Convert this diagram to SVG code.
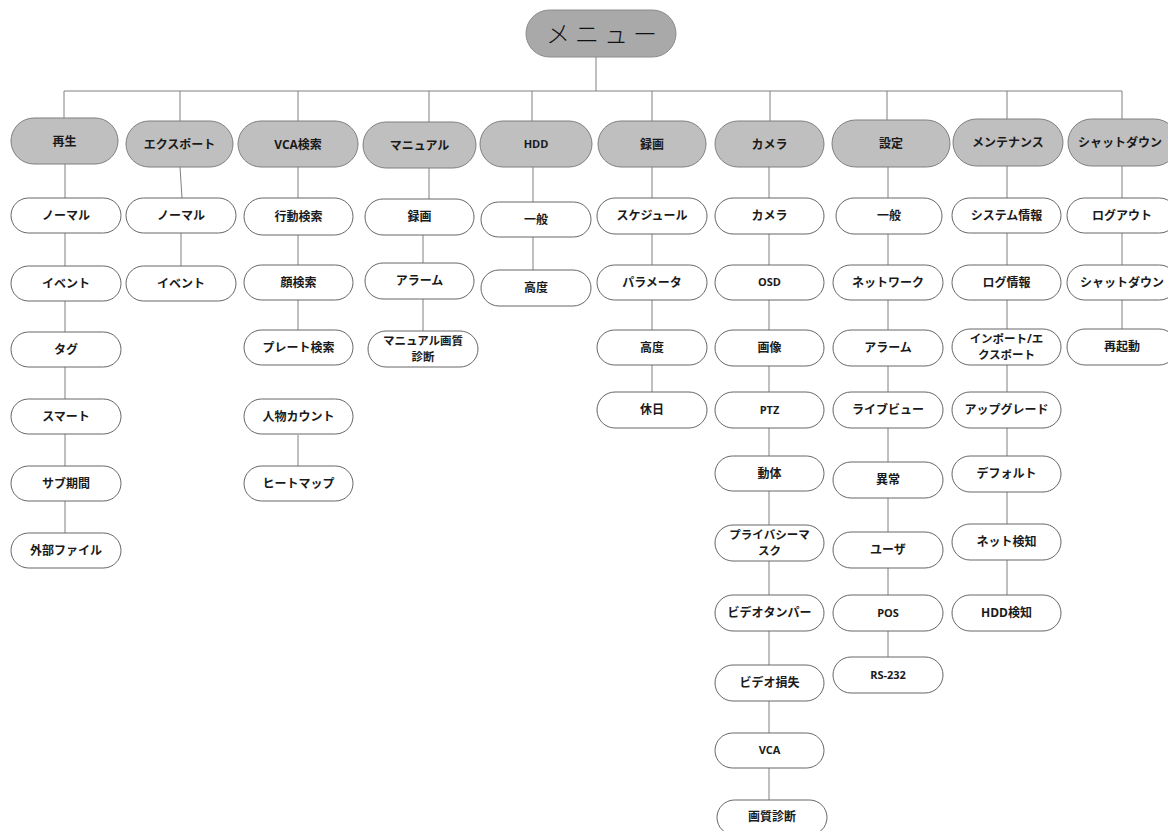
<svg xmlns="http://www.w3.org/2000/svg" width="1168" height="831" viewBox="0 0 1168 831">
<style>
.root rect{fill:#a9a9a9;stroke:#8c8c8c;stroke-width:1}
.l1 rect{fill:#bfbfbf;stroke:#7f7f7f;stroke-width:1}
.l2 rect{fill:#ffffff;stroke:#666666;stroke-width:1}
text{font-family:"Open Sans","Noto Sans CJK JP",sans-serif;font-weight:bold;font-size:12px;fill:#1a1a1a;text-anchor:middle}
.rt{font-family:"Noto Sans CJK JP",sans-serif;font-weight:300;font-size:24px;letter-spacing:5px;fill:#111}
.lat{font-size:11px}
.two{font-size:11.5px}
#connectors line{stroke:#808080;stroke-width:1;fill:none}
</style>
<rect width="1168" height="831" fill="#ffffff"/>
<g id="connectors">
<line x1="596" y1="57" x2="596" y2="91"/>
<line x1="64" y1="91" x2="1122" y2="91"/>
<line x1="64" y1="91" x2="64" y2="118"/>
<line x1="180" y1="91" x2="180" y2="121"/>
<line x1="298" y1="91" x2="298" y2="121"/>
<line x1="429" y1="91" x2="429" y2="122"/>
<line x1="532" y1="91" x2="532" y2="121"/>
<line x1="652" y1="91" x2="652" y2="121"/>
<line x1="770" y1="91" x2="770" y2="121"/>
<line x1="887" y1="91" x2="887" y2="120"/>
<line x1="1007" y1="91" x2="1007" y2="119"/>
<line x1="1122" y1="91" x2="1122" y2="119"/>
<line x1="65" y1="164" x2="65" y2="533"/>
<line x1="180" y1="167" x2="182" y2="198"/>
<line x1="181" y1="233" x2="181" y2="266"/>
<line x1="298" y1="167" x2="298" y2="330"/>
<line x1="298" y1="435" x2="298" y2="466"/>
<line x1="429" y1="168" x2="429" y2="199"/>
<line x1="423" y1="235" x2="423" y2="331"/>
<line x1="533" y1="167" x2="533" y2="270"/>
<line x1="652" y1="167" x2="652" y2="392"/>
<line x1="769" y1="167" x2="769" y2="800"/>
<line x1="888" y1="167" x2="888" y2="657"/>
<line x1="1007" y1="166" x2="1007" y2="595"/>
<line x1="1122" y1="166" x2="1122" y2="329"/>
</g>

<g id="n-root" class="root"><rect x="526" y="10" width="150" height="47" rx="23.5"/><text class="rt" x="604" y="43">メニュー</text></g>

<g id="n-saisei" class="l1"><rect x="11" y="118" width="107" height="46" rx="23"/><text x="64.5" y="145.5">再生</text></g>
<g id="n-export" class="l1"><rect x="126" y="121" width="107" height="46" rx="23"/><text x="179.5" y="148.5">エクスポート</text></g>
<g id="n-vca" class="l1"><rect x="238" y="121" width="120" height="46" rx="23"/><text x="298" y="148.5">VCA検索</text></g>
<g id="n-manual" class="l1"><rect x="363" y="122" width="113" height="46" rx="23"/><text x="419.5" y="149.5">マニュアル</text></g>
<g id="n-hdd" class="l1"><rect x="480" y="121" width="112" height="46" rx="23"/><text class="lat" x="536" y="148">HDD</text></g>
<g id="n-rokuga" class="l1"><rect x="598" y="121" width="108" height="46" rx="23"/><text x="652" y="148.5">録画</text></g>
<g id="n-camera" class="l1"><rect x="715" y="121" width="109" height="46" rx="23"/><text x="769.5" y="148.5">カメラ</text></g>
<g id="n-settei" class="l1"><rect x="832" y="120" width="118" height="47" rx="23.5"/><text x="891" y="148">設定</text></g>
<g id="n-maint" class="l1"><rect x="953" y="119" width="110" height="47" rx="23.5"/><text x="1008" y="147">メンテナンス</text></g>
<g id="n-shutdown" class="l1"><rect x="1068" y="119" width="110" height="47" rx="23.5"/><text x="1120" y="147">シャットダウン</text></g>

<g id="n-s1" class="l2"><rect x="11" y="198" width="110" height="35" rx="17.5"/><text x="66" y="219.5">ノーマル</text></g>
<g id="n-s2" class="l2"><rect x="11" y="266" width="110" height="35" rx="17.5"/><text x="66" y="287.5">イベント</text></g>
<g id="n-s3" class="l2"><rect x="11" y="332" width="110" height="35" rx="17.5"/><text x="66" y="353.5">タグ</text></g>
<g id="n-s4" class="l2"><rect x="11" y="399" width="110" height="35" rx="17.5"/><text x="66" y="420.5">スマート</text></g>
<g id="n-s5" class="l2"><rect x="11" y="466" width="110" height="35" rx="17.5"/><text x="66" y="487.5">サブ期間</text></g>
<g id="n-s6" class="l2"><rect x="11" y="533" width="110" height="35" rx="17.5"/><text x="66" y="554.5">外部ファイル</text></g>

<g id="n-e1" class="l2"><rect x="126" y="198" width="110" height="35" rx="17.5"/><text x="181" y="219.5">ノーマル</text></g>
<g id="n-e2" class="l2"><rect x="126" y="266" width="110" height="35" rx="17.5"/><text x="181" y="287.5">イベント</text></g>

<g id="n-v1" class="l2"><rect x="244" y="198" width="109" height="37" rx="18.5"/><text x="298.5" y="220.5">行動検索</text></g>
<g id="n-v2" class="l2"><rect x="244" y="265" width="109" height="35" rx="17.5"/><text x="298.5" y="286.5">顔検索</text></g>
<g id="n-v3" class="l2"><rect x="244" y="330" width="109" height="35" rx="17.5"/><text x="298.5" y="351.5">プレート検索</text></g>
<g id="n-v4" class="l2"><rect x="244" y="399" width="109" height="35" rx="17.5"/><text x="298.5" y="420.5">人物カウント</text></g>
<g id="n-v5" class="l2"><rect x="244" y="466" width="109" height="35" rx="17.5"/><text x="298.5" y="487.5">ヒートマップ</text></g>

<g id="n-m1" class="l2"><rect x="365" y="199" width="109" height="36" rx="18"/><text x="419.5" y="221">録画</text></g>
<g id="n-m2" class="l2"><rect x="365" y="263" width="109" height="36" rx="18"/><text x="419.5" y="285">アラーム</text></g>
<g id="n-m3" class="l2"><rect x="368" y="331" width="110" height="36" rx="18"/><text class="two" x="423" y="345">マニュアル画質</text><text class="two" x="423" y="361">診断</text></g>

<g id="n-h1" class="l2"><rect x="481" y="202" width="110" height="35" rx="17.5"/><text x="536" y="223.5">一般</text></g>
<g id="n-h2" class="l2"><rect x="481" y="270" width="110" height="36" rx="18"/><text x="536" y="292">高度</text></g>

<g id="n-r1" class="l2"><rect x="597" y="198" width="110" height="36" rx="18"/><text x="652" y="220">スケジュール</text></g>
<g id="n-r2" class="l2"><rect x="597" y="265" width="110" height="35" rx="17.5"/><text x="652" y="286.5">パラメータ</text></g>
<g id="n-r3" class="l2"><rect x="597" y="330" width="110" height="35" rx="17.5"/><text x="652" y="351.5">高度</text></g>
<g id="n-r4" class="l2"><rect x="597" y="392" width="110" height="36" rx="18"/><text x="652" y="414">休日</text></g>

<g id="n-c1" class="l2"><rect x="715" y="198" width="109" height="36" rx="18"/><text x="769.5" y="220">カメラ</text></g>
<g id="n-c2" class="l2"><rect x="715" y="265" width="109" height="35" rx="17.5"/><text class="lat" x="769.5" y="286">OSD</text></g>
<g id="n-c3" class="l2"><rect x="715" y="330" width="109" height="36" rx="18"/><text x="769.5" y="352">画像</text></g>
<g id="n-c4" class="l2"><rect x="715" y="392" width="109" height="36" rx="18"/><text class="lat" x="769.5" y="413.5">PTZ</text></g>
<g id="n-c5" class="l2"><rect x="715" y="456" width="109" height="35" rx="17.5"/><text x="769.5" y="477.5">動体</text></g>
<g id="n-c6" class="l2"><rect x="715" y="525" width="109" height="36" rx="18"/><text class="two" x="769.5" y="539">プライバシーマ</text><text class="two" x="769.5" y="555">スク</text></g>
<g id="n-c7" class="l2"><rect x="715" y="595" width="109" height="36" rx="18"/><text x="769.5" y="617">ビデオタンパー</text></g>
<g id="n-c8" class="l2"><rect x="715" y="665" width="109" height="36" rx="18"/><text x="769.5" y="687">ビデオ損失</text></g>
<g id="n-c9" class="l2"><rect x="715" y="733" width="109" height="35" rx="17.5"/><text class="lat" x="769.5" y="754">VCA</text></g>
<g id="n-c10" class="l2"><rect x="717" y="800" width="110" height="35" rx="17.5"/><text x="772" y="821">画質診断</text></g>

<g id="n-t1" class="l2"><rect x="836" y="198" width="106" height="36" rx="18"/><text x="889" y="220">一般</text></g>
<g id="n-t2" class="l2"><rect x="833" y="265" width="110" height="35" rx="17.5"/><text x="888" y="286.5">ネットワーク</text></g>
<g id="n-t3" class="l2"><rect x="833" y="330" width="110" height="36" rx="18"/><text x="888" y="352">アラーム</text></g>
<g id="n-t4" class="l2"><rect x="833" y="392" width="110" height="36" rx="18"/><text x="888" y="414">ライブビュー</text></g>
<g id="n-t5" class="l2"><rect x="833" y="462" width="110" height="36" rx="18"/><text x="888" y="484">異常</text></g>
<g id="n-t6" class="l2"><rect x="833" y="532" width="110" height="36" rx="18"/><text x="888" y="554">ユーザ</text></g>
<g id="n-t7" class="l2"><rect x="833" y="595" width="110" height="36" rx="18"/><text class="lat" x="888" y="616.5">POS</text></g>
<g id="n-t8" class="l2"><rect x="833" y="657" width="110" height="36" rx="18"/><text class="lat" x="888" y="678.5">RS-232</text></g>

<g id="n-x1" class="l2"><rect x="952" y="198" width="109" height="35" rx="17.5"/><text x="1006.5" y="219.5">システム情報</text></g>
<g id="n-x2" class="l2"><rect x="952" y="265" width="109" height="35" rx="17.5"/><text x="1006.5" y="286.5">ログ情報</text></g>
<g id="n-x3" class="l2"><rect x="952" y="329" width="109" height="36" rx="18"/><text class="two" x="1006.5" y="343">インポート/エ</text><text class="two" x="1006.5" y="359">クスポート</text></g>
<g id="n-x4" class="l2"><rect x="952" y="392" width="109" height="36" rx="18"/><text x="1006.5" y="414">アップグレード</text></g>
<g id="n-x5" class="l2"><rect x="952" y="456" width="109" height="36" rx="18"/><text x="1006.5" y="478">デフォルト</text></g>
<g id="n-x6" class="l2"><rect x="952" y="524" width="109" height="36" rx="18"/><text x="1006.5" y="546">ネット検知</text></g>
<g id="n-x7" class="l2"><rect x="952" y="595" width="109" height="36" rx="18"/><text x="1006.5" y="617">HDD検知</text></g>

<g id="n-d1" class="l2"><rect x="1067" y="198" width="110" height="35" rx="17.5"/><text x="1122" y="219.5">ログアウト</text></g>
<g id="n-d2" class="l2"><rect x="1067" y="265" width="110" height="35" rx="17.5"/><text x="1122" y="286.5">シャットダウン</text></g>
<g id="n-d3" class="l2"><rect x="1067" y="329" width="110" height="36" rx="18"/><text x="1122" y="351">再起動</text></g>
</svg>
